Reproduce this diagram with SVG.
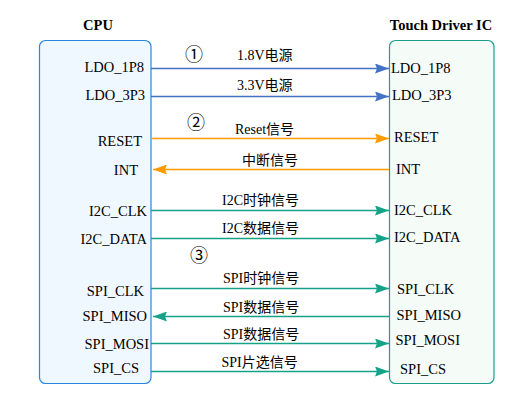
<svg xmlns="http://www.w3.org/2000/svg" width="521" height="409" viewBox="0 0 521 409">
<style>
  .title { font-family: "Liberation Serif", "Noto Sans CJK SC", serif; font-size: 14.5px; font-weight: bold; fill: #000; }
  .pin { font-family: "Liberation Serif", "Noto Sans CJK SC", serif; font-size: 14.5px; fill: #000; }
  .lbl { font-family: "Liberation Serif", "Noto Sans CJK SC", serif; font-size: 14px; fill: #000; }
  .num { font-family: "Noto Sans CJK SC", sans-serif; font-size: 18px; fill: #000; }
  .blue { stroke: #4472c4; stroke-width: 1.3; fill: none; }
  .orange { stroke: #ff9b00; stroke-width: 1.3; fill: none; }
  .teal { stroke: #16a288; stroke-width: 1.3; fill: none; }
</style>
<defs>
  <marker id="aBlue" viewBox="0 0 14 10" refX="14" refY="5" markerWidth="14" markerHeight="10" markerUnits="userSpaceOnUse" orient="auto">
    <path d="M0,0 L14,5 L0,10 L2,5 Z" fill="#4472c4"/>
  </marker>
  <marker id="aOrange" viewBox="0 0 14 10" refX="14" refY="5" markerWidth="14" markerHeight="10" markerUnits="userSpaceOnUse" orient="auto">
    <path d="M0,0 L14,5 L0,10 L2,5 Z" fill="#ff9b00"/>
  </marker>
  <marker id="aTeal" viewBox="0 0 14 10" refX="14" refY="5" markerWidth="14" markerHeight="10" markerUnits="userSpaceOnUse" orient="auto">
    <path d="M0,0 L14,5 L0,10 L2,5 Z" fill="#16a288"/>
  </marker>
</defs>
<rect width="521" height="409" fill="#ffffff"/>

<g id="cpu">
  <rect x="39.5" y="40.5" width="111.5" height="343" rx="6" fill="#f0f8ff" stroke="#2a86dc" stroke-width="1.2"/>
  <text class="title" x="98" y="30" text-anchor="middle">CPU</text>
  <g class="pin" text-anchor="end">
    <text x="144" y="72">LDO_1P8</text>
    <text x="145" y="100">LDO_3P3</text>
    <text x="142" y="146">RESET</text>
    <text x="138" y="175">INT</text>
    <text x="147" y="215.5">I2C_CLK</text>
    <text x="147" y="243.5">I2C_DATA</text>
    <text x="144" y="295.5">SPI_CLK</text>
    <text x="147" y="321">SPI_MISO</text>
    <text x="149" y="349">SPI_MOSI</text>
    <text x="139" y="372.5">SPI_CS</text>
  </g>
</g>

<g id="touch">
  <rect x="389.5" y="40.5" width="104.5" height="343" rx="6" fill="#f5fbf7" stroke="#1aa08a" stroke-width="1.2"/>
  <text class="title" x="441" y="30" text-anchor="middle">Touch Driver IC</text>
  <g class="pin">
    <text x="391" y="72.5">LDO_1P8</text>
    <text x="392" y="100">LDO_3P3</text>
    <text x="394" y="141.5">RESET</text>
    <text x="396" y="173.5">INT</text>
    <text x="394" y="215">I2C_CLK</text>
    <text x="394" y="241.5">I2C_DATA</text>
    <text x="397" y="294">SPI_CLK</text>
    <text x="396.5" y="320">SPI_MISO</text>
    <text x="395.5" y="345">SPI_MOSI</text>
    <text x="400" y="373.5">SPI_CS</text>
  </g>
</g>

<g id="connectors">
  <line class="blue" x1="151" y1="68.5" x2="389" y2="68.5" marker-end="url(#aBlue)"/>
  <line class="blue" x1="151" y1="96.5" x2="389" y2="96.5" marker-end="url(#aBlue)"/>
  <line class="orange" x1="151" y1="138.5" x2="389" y2="138.5" marker-end="url(#aOrange)"/>
  <line class="orange" x1="389" y1="169.5" x2="153" y2="169.5" marker-end="url(#aOrange)"/>
  <line class="teal" x1="151" y1="210.5" x2="389" y2="210.5" marker-end="url(#aTeal)"/>
  <line class="teal" x1="151" y1="238.5" x2="389" y2="238.5" marker-end="url(#aTeal)"/>
  <line class="teal" x1="151" y1="288.5" x2="389" y2="288.5" marker-end="url(#aTeal)"/>
  <line class="teal" x1="389" y1="316.5" x2="153" y2="316.5" marker-end="url(#aTeal)"/>
  <line class="teal" x1="151" y1="343.5" x2="389" y2="343.5" marker-end="url(#aTeal)"/>
  <line class="teal" x1="151" y1="371.5" x2="389" y2="371.5" marker-end="url(#aTeal)"/>

  <text class="num" x="194" y="61" text-anchor="middle">①</text>
  <text class="num" x="196" y="129" text-anchor="middle">②</text>
  <text class="num" x="199" y="262" text-anchor="middle">③</text>

  <text class="lbl" x="237" y="60">1.8V电源</text>
  <text class="lbl" x="237" y="90">3.3V电源</text>
  <text class="lbl" x="235" y="134">Reset信号</text>
  <text class="lbl" x="242" y="165">中断信号</text>
  <text class="lbl" x="222" y="205">I2C时钟信号</text>
  <text class="lbl" x="222" y="233">I2C数据信号</text>
  <text class="lbl" x="223" y="283">SPI时钟信号</text>
  <text class="lbl" x="223" y="312">SPI数据信号</text>
  <text class="lbl" x="223" y="339">SPI数据信号</text>
  <text class="lbl" x="221.5" y="367">SPI片选信号</text>
</g>
</svg>
